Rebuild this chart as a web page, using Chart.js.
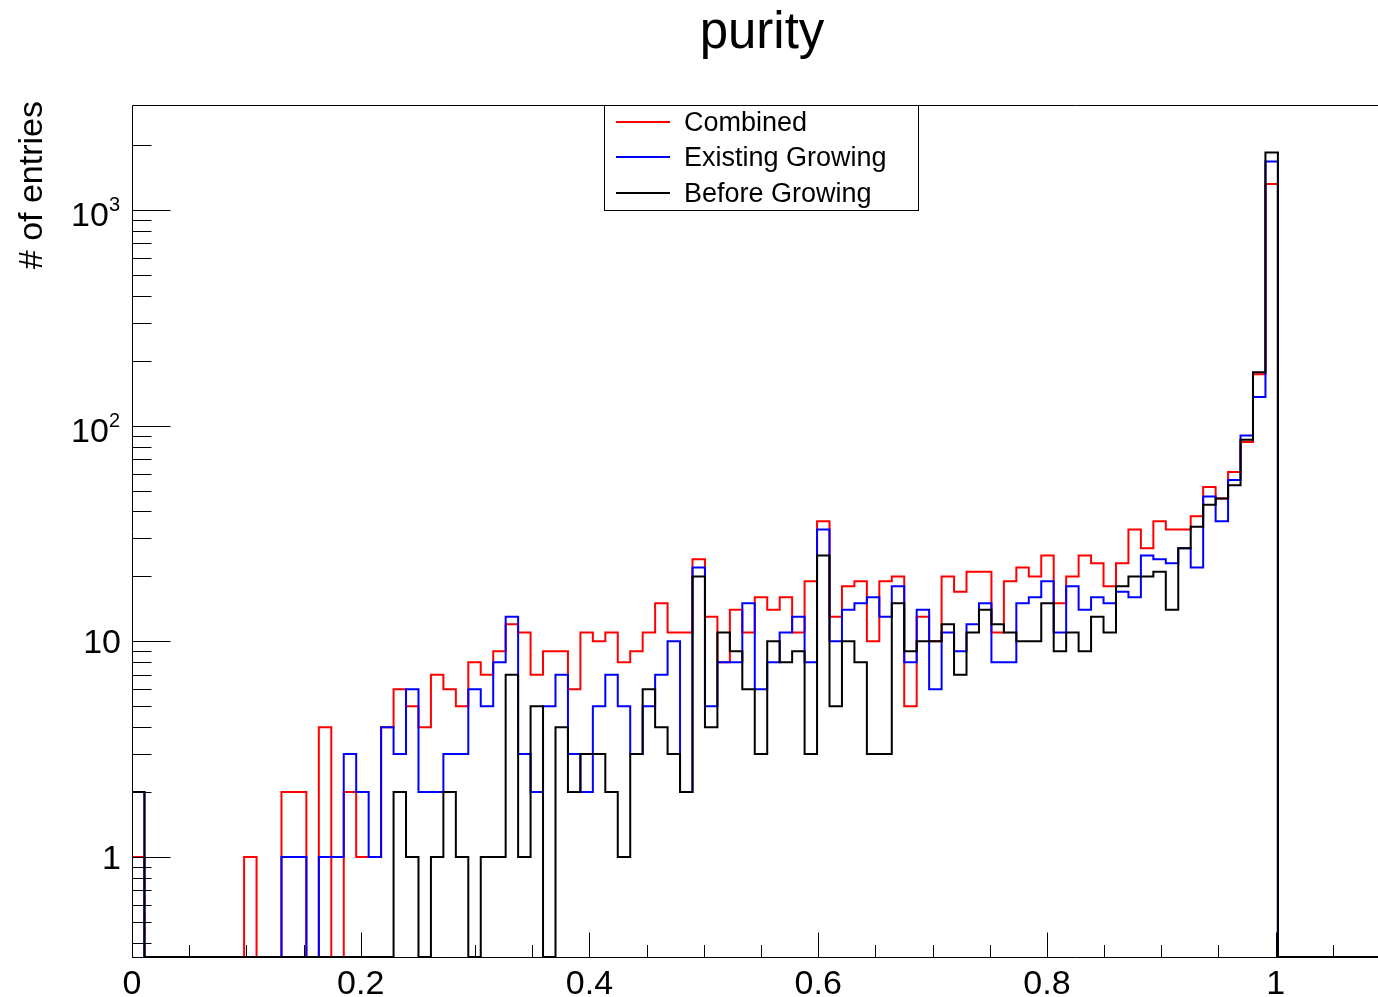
<!DOCTYPE html>
<html>
<head>
<meta charset="utf-8">
<script src="https://cdn.jsdelivr.net/npm/chart.js@4/dist/chart.umd.min.js"></script>
<style>
html,body{margin:0;padding:0;overflow:hidden;background:#fff;width:1378px;height:997px}
#wrap{position:absolute;left:0;top:0;width:1524px;height:997px}
</style>
</head>
<body>
<div id="wrap"><canvas id="c" width="1524" height="997"></canvas></div>
<script>
// ---- data (bin contents, 101 bins over [0, 1.1]) ----
const binLow = 0, binHigh = 1.1, nBins = 101;
const combined = [1,0,0,0,0,0,0,0,0,1, 0,0,2,2,0,4,0,2,1,1,
  4,6,5,4,7,6,5,8,7,9, 12,11,7,9,9,6,11,10,11,8,
  9,11,15,11,11,24,13,8,14,11, 16,14,16,11,19,36,13,18,19,10,
  19,20,5,13,10,20,17,21,21,11, 19,22,20,25,15,20,25,23,18,23,
  33,27,36,33,33,38,52,46,61,84, 173,1320,0,0,0,0,0,0,0,0,0];
const existing = [2,0,0,0,0,0,0,0,0,0, 0,0,1,1,0,1,1,3,2,1,
  4,3,6,2,2,3,3,6,5,8, 13,3,2,5,7,3,2,5,7,5,
  3,5,7,10,2,22,5,8,8,15, 6,8,11,13,8,33,10,14,15,16,
  13,18,8,14,6,11,9,12,15,8, 8,15,16,19,11,18,14,16,15,17,
  16,25,24,23,27,22,47,36,56,90, 136,1680,0,0,0,0,0,0,0,0,0];
const before = [2,0,0,0,0,0,0,0,0,0, 0,0,0,0,0,0,0,0,0,0,
  0,2,1,0,1,2,1,0,1,1, 7,1,5,0,4,2,3,3,2,1,
  3,6,4,3,2,20,4,11,9,6, 3,10,8,9,3,25,5,10,8,3,
  3,15,9,10,10,12,7,11,14,12, 11,10,10,15,9,11,9,13,11,18,
  20,20,21,14,27,34,43,46,53,86, 177,1850,0,0,0,0,0,0,0,0,0];
const seriesNames = ['Combined', 'Existing Growing', 'Before Growing'];
const xTickValues = [0, 0.2, 0.4, 0.6, 0.8, 1.0];
const xTickLabels = ['0', '0.2', '0.4', '0.6', '0.8', '1'];
const yTickValues = [1, 10, 100, 1000];
const yTickBase = ['1', '10', '10', '10'];
const yTickExp = ['', '', '2', '3'];
const yMin = 0.3436, yMax = 3070;
const titleText = 'purity';
const yTitle = '# of entries';

const colors = ['#ff0000', '#0000ff', '#000000'];
const FONT = '"Liberation Sans", Arial, Helvetica, sans-serif';

function toPoints(arr) {
  const w = (binHigh - binLow) / nBins;
  const pts = arr.map((v, i) => ({ x: binLow + i * w, y: v > 0 ? v : yMin }));
  pts.push({ x: binHigh, y: pts[pts.length - 1].y });
  return pts;
}

const decor = {
  id: 'decor',
  afterDraw(chart) {
    const ctx = chart.ctx, a = chart.chartArea;
    const xs = chart.scales.x, ys = chart.scales.y;
    ctx.save();
    // frame
    ctx.strokeStyle = '#000'; ctx.lineWidth = 1;
    const L = Math.round(a.left) + 0.5, B = Math.round(a.bottom) + 0.5, T = Math.round(a.top) + 0.5, R = a.right;
    ctx.beginPath();
    ctx.moveTo(R, T); ctx.lineTo(L, T); ctx.lineTo(L, B); ctx.lineTo(R, B);
    ctx.stroke();
    // x ticks (inward)
    ctx.beginPath();
    for (let k = 0; k <= 22; k++) {
      const v = k * 0.05;
      const px = Math.round(xs.getPixelForValue(v)) + 0.5;
      const major = (k % 4 === 0);
      ctx.moveTo(px, B); ctx.lineTo(px, B - (major ? 25 : 12.5));
    }
    // y ticks (inward)
    for (let d = -1; d <= 3; d++) {
      for (let m = 1; m <= 9; m++) {
        const v = m * Math.pow(10, d);
        if (v < yMin || v > 2500) continue;
        const py = Math.round(ys.getPixelForValue(v)) + 0.5;
        ctx.moveTo(L, py); ctx.lineTo(L + (m === 1 ? 38 : 19), py);
      }
    }
    ctx.stroke();
    // x labels
    ctx.fillStyle = '#000';
    ctx.font = '34px ' + FONT;
    ctx.textAlign = 'center'; ctx.textBaseline = 'alphabetic';
    xTickValues.forEach((v, i) => {
      ctx.fillText(xTickLabels[i], xs.getPixelForValue(v), 994);
    });
    // y labels
    yTickValues.forEach((v, i) => {
      const py = ys.getPixelForValue(v);
      ctx.textAlign = 'right';
      if (yTickExp[i]) {
        ctx.font = '20px ' + FONT;
        ctx.fillText(yTickExp[i], 120, py + 1);
        const ew = ctx.measureText(yTickExp[i]).width;
        ctx.font = '34px ' + FONT;
        ctx.fillText(yTickBase[i], 120 - ew, py + 16);
      } else {
        ctx.font = '34px ' + FONT;
        ctx.fillText(yTickBase[i], 121, py + 12);
      }
    });
    // y title
    ctx.save();
    ctx.translate(42, 101);
    ctx.rotate(-Math.PI / 2);
    ctx.font = '34px ' + FONT;
    ctx.textAlign = 'right';
    ctx.fillText(yTitle, 0, 0);
    ctx.restore();
    // title
    ctx.font = '51px ' + FONT;
    ctx.textAlign = 'center';
    ctx.fillText(titleText, chart.width / 2, 48);
    // legend
    ctx.fillStyle = '#fff';
    ctx.fillRect(604.5, 105.5, 314, 105);
    ctx.strokeStyle = '#000'; ctx.lineWidth = 1;
    ctx.strokeRect(604.5, 105.5, 314, 105);
    const ly = [122, 157, 193];
    ctx.font = '27px ' + FONT;
    ctx.textAlign = 'left';
    seriesNames.forEach((n, i) => {
      ctx.strokeStyle = colors[i]; ctx.lineWidth = 2;
      ctx.beginPath(); ctx.moveTo(616, ly[i]); ctx.lineTo(670, ly[i]); ctx.stroke();
      ctx.fillStyle = '#000';
      ctx.fillText(n, 684, ly[i] + 8.5);
    });
    ctx.restore();
  }
};

new Chart(document.getElementById('c'), {
  type: 'line',
  data: {
    datasets: [
      { label: seriesNames[0], data: toPoints(combined), borderColor: colors[0], order: 2 },
      { label: seriesNames[1], data: toPoints(existing), borderColor: colors[1], order: 1 },
      { label: seriesNames[2], data: toPoints(before), borderColor: colors[2], order: 0 }
    ]
  },
  options: {
    responsive: false,
    animation: false,
    devicePixelRatio: 1,
    layout: { padding: { left: 132, right: 134, top: 105, bottom: 40 } },
    datasets: { line: { stepped: true, borderWidth: 2, fill: false, pointRadius: 0, tension: 0 } },
    elements: { point: { radius: 0 } },
    plugins: { legend: { display: false }, title: { display: false }, tooltip: { enabled: false } },
    scales: {
      x: { type: 'linear', min: binLow, max: binHigh, display: false, bounds: 'data' },
      y: { type: 'logarithmic', min: yMin, max: yMax, display: false, bounds: 'data' }
    }
  },
  plugins: [decor]
});
</script>
</body>
</html>
